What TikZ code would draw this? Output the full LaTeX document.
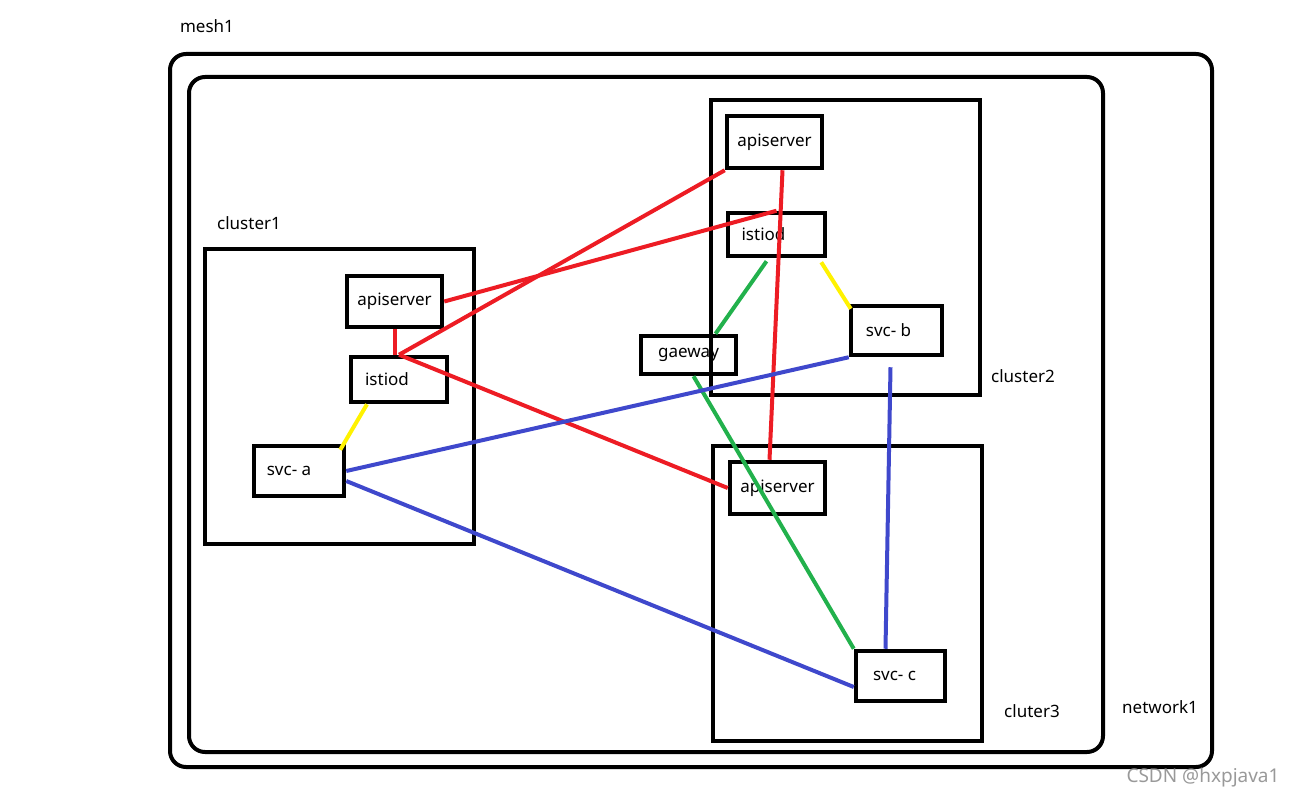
\documentclass[tikz,border=0pt]{standalone}
\usepackage{fontspec}
\setmainfont{Noto Sans}
\usetikzlibrary{calc}
\definecolor{pred}{RGB}{237,28,36}
\definecolor{pgreen}{RGB}{34,177,76}
\definecolor{pyellow}{RGB}{255,242,0}
\definecolor{pblue}{RGB}{63,72,204}

\begin{document}
\begin{tikzpicture}[x=1pt, y=-1pt,
    every node/.style={font=\fontsize{17}{20}\selectfont},
    box/.style={draw, line width=4.5pt, inner sep=0pt},
    frame/.style={draw, line width=4pt, inner sep=0pt},
    link/.style={line width=4pt}]

    \useasboundingbox (0, 0) rectangle (1291, 800);

    % outer frames
    \node [frame, rounded corners=16pt, minimum width=1042, minimum height=713] (net) at (691, 410.5) {};
    \node [frame, rounded corners=16pt, minimum width=914, minimum height=675] (mesh) at (646, 414.5) {};
    \node [frame, minimum width=269, minimum height=295] (cl1) at (339.5, 396.5) {};
    \node [frame, minimum width=269, minimum height=295] (cl2) at (845.5, 247.5) {};
    \node [frame, minimum width=269, minimum height=295] (cl3) at (847.5, 593.5) {};

    \node (m) at (207, 26) {mesh1};
    \node (n) at (1160, 707) {network1};
    \node (c1) at (249, 223) {cluster1};
    \node (c2) at (1023, 376) {cluster2};
    \node (c3) at (1032, 711) {cluter3};
    \node [text=black!40, font=\fontsize{19}{22}\selectfont] (w) at (1203, 778) {CSDN @hxpjava1};

    % cluster1
    \node [box, minimum width=95, minimum height=51] (a1) at (394.5, 301.5) {apiserver};
    \node [box, minimum width=96, minimum height=45] (i1) at (399, 379.5) {\hspace{-24pt}istiod};
    \node [box, minimum width=90, minimum height=50] (sa) at (299, 471) {\hspace{-20pt}svc- a};

    % cluster2
    \node [box, minimum width=95, minimum height=52] (a2) at (774.5, 142) {apiserver};
    \node [box, minimum width=97, minimum height=43] (i2) at (776.5, 234.5) {\hspace{-26pt}istiod};
    \node [box, minimum width=95, minimum height=38] (g) at (688.5, 355) {gaeway};
    \node [box, minimum width=91, minimum height=49] (sb) at (896.5, 330.5) {\hspace{-16pt}svc- b};

    % cluster3
    \node [box, minimum width=95, minimum height=52] (a3) at (777.5, 488) {apiserver};
    \node [box, minimum width=89, minimum height=50] (sc) at (900.5, 676) {\hspace{-12pt}svc- c};

    % red
    \draw [link, pred] (a1.south) -- (a1.south |- i1.north);
    \draw [link, pred] (a1.east) to (i2.north);
    \draw [link, pred] (i1.north) to (a2.south west);
    \draw [link, pred] (i1.north) to (a3.west);
    \draw [link, pred] ($(a2.south)+(8,0)$) to ($(a3.north)+(-8,0)$);

    % green
    \draw [link, pgreen] ($(i2.south)+(-10,3)$) to ($(g.north)+(27,0)$);
    \draw [link, pgreen] ($(g.south)+(5,0)$) to (sc.north west);

    % yellow
    \draw [link, pyellow] ($(i1.south)+(-32,0)$) to ($(sa.north east)+(-6,6)$);
    \draw [link, pyellow] ($(i2.south east)+(-6,4)$) to ($(sb.north west)+(2,5)$);

    % blue
    \draw [link, pblue] (sa.east) to (sb.south west);
    \draw [link, pblue] ($(sa.east)+(0,10)$) to ($(sc.west)+(0,11)$);
    \draw [link, pblue] ($(sb.south)+(-6,10)$) to ($(sc.north)+(-15,0)$);

\end{tikzpicture}
\end{document}
